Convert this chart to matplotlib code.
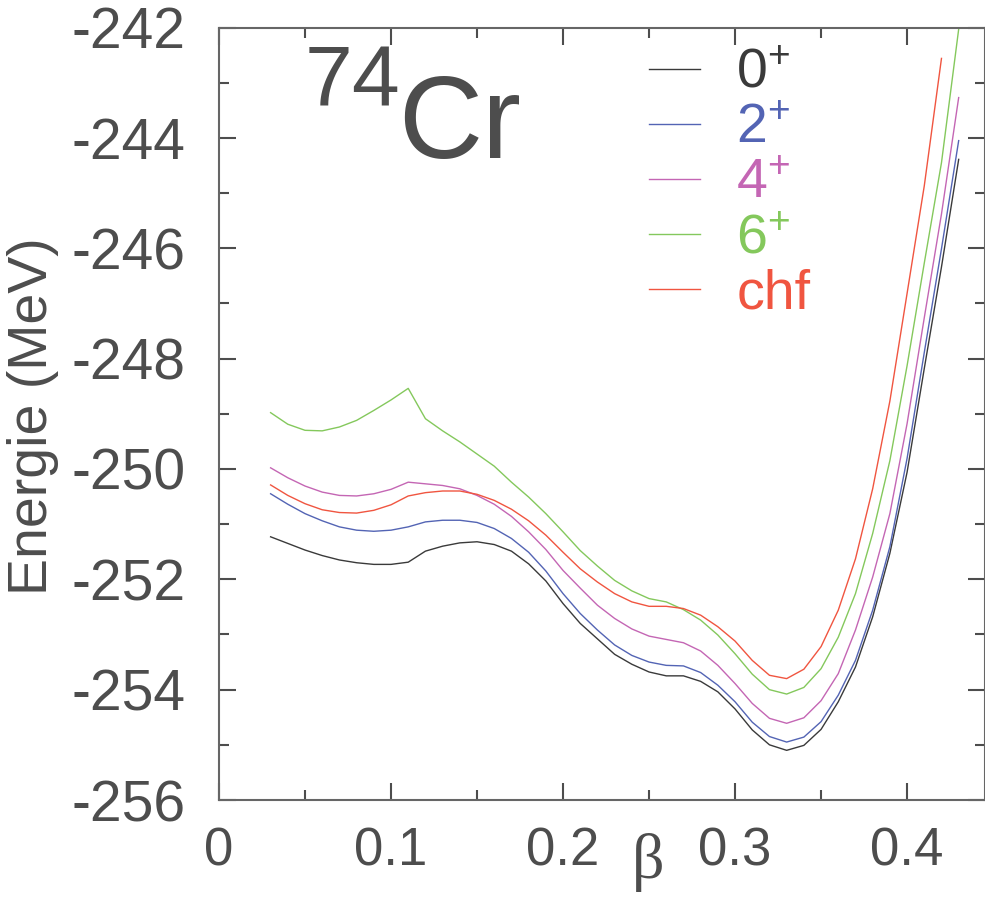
import matplotlib
matplotlib.use("Agg")
import matplotlib.pyplot as plt
from matplotlib.ticker import MultipleLocator

plt.rcParams['font.family'] = ['Liberation Sans', 'DejaVu Sans']
plt.rcParams['mathtext.default'] = 'regular'
plt.rcParams['axes.unicode_minus'] = False

#data
beta = [0.03, 0.04, 0.05, 0.06, 0.07, 0.08, 0.09, 0.10, 0.11, 0.12,
        0.13, 0.14, 0.15, 0.16, 0.17, 0.18, 0.19, 0.20, 0.21, 0.22,
        0.23, 0.24, 0.25, 0.26, 0.27, 0.28, 0.29, 0.30, 0.31, 0.32,
        0.33, 0.34, 0.35, 0.36, 0.37, 0.38, 0.39, 0.40, 0.41, 0.42, 0.43]

e_0 = [-251.23, -251.35, -251.47, -251.57, -251.65, -251.70, -251.73, -251.73, -251.69, -251.49,
       -251.40, -251.34, -251.32, -251.37, -251.49, -251.72, -252.03, -252.44, -252.80, -253.08,
       -253.36, -253.54, -253.68, -253.75, -253.75, -253.85, -254.04, -254.35, -254.73, -255.00,
       -255.10, -255.01, -254.72, -254.22, -253.59, -252.68, -251.53, -250.06, -248.18, -246.34, -244.39]

e_2 = [-250.45, -250.64, -250.81, -250.94, -251.05, -251.11, -251.13, -251.11, -251.05, -250.96,
       -250.93, -250.93, -250.97, -251.08, -251.26, -251.51, -251.85, -252.26, -252.62, -252.92,
       -253.19, -253.38, -253.50, -253.56, -253.57, -253.69, -253.92, -254.22, -254.59, -254.85,
       -254.95, -254.86, -254.58, -254.10, -253.47, -252.56, -251.41, -249.81, -247.89, -246.01, -244.05]

e_4 = [-249.98, -250.16, -250.31, -250.42, -250.48, -250.49, -250.45, -250.37, -250.24, -250.27,
       -250.30, -250.36, -250.48, -250.64, -250.86, -251.14, -251.46, -251.84, -252.16, -252.47,
       -252.71, -252.90, -253.03, -253.09, -253.15, -253.30, -253.56, -253.89, -254.25, -254.52,
       -254.61, -254.51, -254.20, -253.71, -252.92, -251.96, -250.81, -249.18, -247.26, -245.38, -243.27]

e_6 = [-248.98, -249.19, -249.30, -249.31, -249.24, -249.12, -248.94, -248.75, -248.54, -249.09,
       -249.31, -249.51, -249.73, -249.95, -250.24, -250.51, -250.81, -251.14, -251.48, -251.76,
       -252.02, -252.21, -252.35, -252.41, -252.55, -252.74, -253.01, -253.35, -253.72, -254.00,
       -254.08, -253.96, -253.62, -253.05, -252.26, -251.17, -249.85, -248.13, -246.27, -244.45, -242.03]

# chf curve stops one point earlier
e_chf = [-250.29, -250.48, -250.63, -250.74, -250.79, -250.80, -250.75, -250.65, -250.49, -250.43,
         -250.40, -250.40, -250.46, -250.57, -250.73, -250.94, -251.20, -251.51, -251.81, -252.05,
         -252.26, -252.41, -252.49, -252.49, -252.53, -252.65, -252.86, -253.12, -253.47, -253.74,
         -253.80, -253.63, -253.22, -252.56, -251.63, -250.36, -248.77, -246.82, -244.87, -242.56]

labels = ['$0^{+}$', '$2^{+}$', '$4^{+}$', '$6^{+}$', 'chf']
colors = ['#3a3a3a', '#5364b4', '#c466b4', '#84c85c', '#f05540']
GREY = '#4d4d4d'

W, H = 985, 898
fig = plt.figure(figsize=(W/100, H/100), dpi=100)
ax = fig.add_axes([219/W, 1 - 800/H, 1 - 219/W, (800 - 27.5)/H])

series = [e_0, e_2, e_4, e_6, e_chf]
for e, lab, c in zip(series, labels, colors):
    ax.plot(beta[:len(e)], e, color=c, lw=1.0, label=lab)

ax.set_xlim(0, 0.4453)
ax.set_ylim(-256, -242)
ax.xaxis.set_minor_locator(MultipleLocator(0.05))
ax.yaxis.set_major_locator(MultipleLocator(2))
ax.yaxis.set_minor_locator(MultipleLocator(1))
ax.set_xticks([0, 0.1, 0.2, 0.3, 0.4])
ax.set_xticklabels(['0', '0.1', '0.2', '0.3', '0.4'])

ax.tick_params(which='both', direction='in', top=True, right=True,
               color=GREY, width=1.5, labelcolor=GREY)
ax.tick_params(which='major', length=12)
ax.tick_params(which='minor', length=7)
ax.tick_params(axis='y', pad=24, labelsize=41)
ax.tick_params(axis='x', pad=19, labelsize=38)
for s in ax.spines.values():
    s.set_color('#666666')
    s.set_linewidth(1.5)

leg = ax.legend(loc='upper left', bbox_to_anchor=(649/W, 1 - 48/H),
                bbox_transform=fig.transFigure, frameon=False,
                fontsize=40, handlelength=0.92, handletextpad=0.65,
                labelspacing=0.055, borderpad=0, borderaxespad=0)
for t, c in zip(leg.get_texts(), colors):
    t.set_color(c)

# nucleus label
fig.text(305/W, 1 - 106/H, '74', fontsize=62, color=GREY, va='baseline')
fig.text(398/W, 1 - 158/H, 'Cr', fontsize=84, color=GREY, va='baseline')

fig.text(33/W, 1 - 416/H, 'Energie (MeV)', rotation=90, fontsize=40,
         color=GREY, ha='center', va='center')
fig.text(648/W, 1 - 862/H, 'β', family=['Liberation Serif', 'DejaVu Serif'],
         fontsize=46, color=GREY, ha='center', va='center')

fig.savefig('out.png', dpi=100)
